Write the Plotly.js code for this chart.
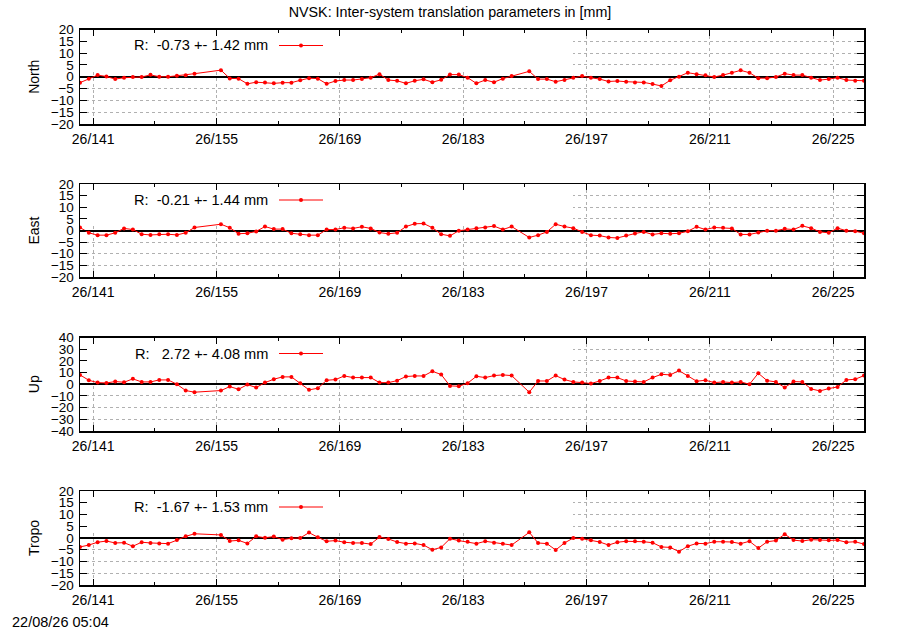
<!DOCTYPE html>
<html><head><meta charset="utf-8">
<script src="https://cdn.plot.ly/plotly-3.0.1.min.js"></script>
<style>html,body{margin:0;padding:0;background:#fff}#chart{width:900px;height:630px}</style>
</head><body><div id="chart"></div>
<script>
// ---- data (day-of-year, noon epochs) ----
const days = [139.5,140.5,141.5,142.5,143.5,144.5,145.5,146.5,147.5,148.5,149.5,150.5,151.5,152.5,
  155.5,156.5,157.5,158.5,159.5,160.5,161.5,162.5,163.5,164.5,165.5,166.5,167.5,168.5,169.5,170.5,171.5,172.5,173.5,174.5,175.5,176.5,177.5,178.5,179.5,180.5,181.5,182.5,183.5,184.5,185.5,186.5,187.5,188.5,
  190.5,191.5,192.5,193.5,194.5,195.5,196.5,197.5,198.5,199.5,200.5,201.5,202.5,203.5,204.5,205.5,206.5,207.5,208.5,209.5,210.5,211.5,212.5,213.5,214.5,215.5,216.5,217.5,218.5,219.5,220.5,221.5,222.5,223.5,224.5,225.5,226.5,227.5,228.5];

const north = [-2.5,-0.8,0.7,0.1,-1.0,-0.4,-0.1,-0.1,0.8,0.0,0.0,0.4,0.6,1.3,
  2.8,-0.7,-0.8,-3.0,-2.3,-2.4,-2.8,-2.5,-2.5,-1.5,-0.6,-0.8,-3.0,-1.8,-1.4,-1.4,-1.0,-0.4,1.1,-1.4,-1.7,-2.8,-1.7,-1.1,-2.3,-1.3,0.9,0.9,-0.4,-2.8,-1.4,-2.3,-0.8,0.3,
  2.3,-1.0,-1.0,-2.1,-1.4,-0.4,0.3,-0.4,-1.0,-2.0,-1.8,-2.1,-2.4,-2.4,-3.1,-3.9,-1.5,0.0,1.7,1.1,0.6,-0.1,0.7,1.7,2.7,1.7,-0.6,-0.6,-0.1,1.3,0.7,0.7,-0.4,-1.4,-1.0,-0.4,-1.4,-1.7,-1.7];

const east = [1.3,-1.0,-2.0,-2.0,-1.0,0.9,0.4,-1.6,-1.9,-1.6,-1.6,-1.9,-1.0,1.3,
  2.7,1.2,-1.4,-1.2,-0.4,1.7,0.6,0.6,-1.2,-1.6,-2.0,-2.0,0.4,0.4,1.2,0.9,1.6,0.9,-0.9,-1.4,-1.0,1.7,2.9,3.0,1.2,-1.6,-2.3,-0.1,0.4,1.0,1.3,1.9,0.4,1.7,
  -3.0,-2.0,-0.6,2.7,1.7,1.0,-0.6,-2.0,-2.2,-3.0,-3.2,-2.2,-1.3,-0.6,-1.7,-1.2,-1.4,-1.2,-0.3,1.6,0.4,1.3,1.2,0.9,-1.7,-1.7,-0.9,-0.1,-0.1,0.7,0.4,2.0,1.0,-0.6,-1.0,1.0,-0.1,-0.3,-1.2];

const up = [8.0,3.4,1.4,1.1,2.3,1.7,4.6,2.0,2.0,3.7,3.7,0.0,-5.4,-6.8,
  -5.4,-2.0,-4.3,-0.3,-2.8,1.4,4.3,6.3,6.3,0.9,-4.8,-3.4,3.4,4.0,7.1,5.7,5.7,5.7,1.4,1.4,3.1,6.6,7.1,7.1,11.1,8.3,-1.4,-1.7,0.9,6.8,5.7,7.4,8.0,7.4,
  -6.8,2.8,2.8,7.4,4.0,2.0,1.4,0.6,2.8,5.7,5.7,2.8,2.3,2.0,5.7,8.5,8.0,11.7,7.1,2.6,3.4,1.4,2.0,1.4,2.0,0.0,9.4,3.1,2.0,-2.8,2.3,2.0,-4.0,-5.7,-3.7,-2.3,3.7,4.3,7.4];

const tropo = [-3.8,-3.0,-1.8,-1.3,-2.1,-2.0,-3.5,-1.8,-2.1,-2.3,-2.4,-0.9,0.7,1.8,
  1.3,-1.3,-1.0,-2.3,0.7,0.1,0.6,-0.7,-0.1,0.0,2.3,0.3,-1.4,-1.1,-1.8,-2.1,-2.1,-2.6,0.4,-0.4,-1.7,-2.4,-2.3,-3.0,-5.0,-4.0,-0.3,-1.1,-1.6,-2.4,-1.4,-2.0,-2.4,-3.0,
  2.4,-2.1,-2.4,-5.1,-2.1,0.0,-0.3,-1.0,-1.7,-3.0,-1.8,-1.4,-1.4,-1.6,-2.0,-3.8,-4.0,-5.8,-3.5,-2.3,-2.4,-1.6,-1.6,-1.7,-2.4,-1.4,-4.3,-1.6,-1.1,1.6,-0.9,-1.3,-0.7,-0.9,-1.0,-0.9,-1.8,-1.6,-2.6];

const panelNames = ['North','East','Up','Tropo'];
const legendTexts = ['R:  -0.73 +- 1.42 mm','R:  -0.21 +- 1.44 mm','R:   2.72 +- 4.08 mm','R:  -1.67 +- 1.53 mm'];
const tickDays = [141,155,169,183,197,211,225];
const tickLabels = ['26/141','26/155','26/169','26/183','26/197','26/211','26/225'];
const minorDays = [148,162,176,190,204,218];
const titleText = 'NVSK: Inter-system translation parameters in [mm]';
const stampText = '22/08/26 05:04';

// ---- layout ----
const series = [north, east, up, tropo];
const xRange = [139.5, 228.5];
const yRanges = [[-20,20],[-20,20],[-40,40],[-20,20]];
const yDticks = [5,5,10,5];
const H = 630, W = 900, L = 80, RGT = 864;
const panelTop = [29.5, 184, 337.5, 491];
const panelBot = [124, 277, 431, 585];
const FONT = 'Liberation Sans, Arial, sans-serif';
const px2x = p => (p - L) / (RGT - L);
const px2y = p => 1 - p / H;

const traces = [];
const layout = {
  width: W, height: H,
  margin: {l: L, r: W - RGT, t: 0, b: 0},
  paper_bgcolor: '#fff', plot_bgcolor: '#fff',
  font: {family: FONT, size: 14, color: '#000'},
  showlegend: false,
  title: {text: titleText, x: 0.5, xref: 'container', xanchor: 'center', y: 1 - 12/H, yref: 'container', yanchor: 'middle', font: {family: FONT, size: 14.3, color: '#000'}},
  shapes: [], annotations: []
};

for (let i = 0; i < 4; i++) {
  const s = i === 0 ? '' : String(i + 1);
  traces.push({
    type: 'scatter', mode: 'lines+markers',
    x: days, y: series[i],
    xaxis: 'x' + s, yaxis: 'y' + s,
    line: {color: '#ff0000', width: 1},
    marker: {color: '#ff0000', size: 4},
    hoverinfo: 'skip'
  });
  const d0 = px2y(panelBot[i]), d1 = px2y(panelTop[i]);
  const ph = panelBot[i] - panelTop[i];
  layout['xaxis' + s] = {
    domain: [0, 1], range: xRange, anchor: 'y' + s,
    tickmode: 'array', tickvals: tickDays, ticktext: tickLabels,
    ticks: 'inside', ticklen: 6, tickwidth: 1, tickcolor: '#000',
    mirror: 'allticks', showline: true, linecolor: '#000', linewidth: 1.5,
    showgrid: true, gridcolor: '#b0b0b0', griddash: 'dot', gridwidth: 1,
    zeroline: false, tickfont: {family: FONT, size: 14, color: '#000'},
    ticklabelstandoff: 2,
    minor: {tickmode: 'array', tickvals: minorDays, ticks: 'inside', ticklen: 3, tickcolor: '#000', showgrid: false},
    fixedrange: true
  };
  layout['yaxis' + s] = {
    domain: [d0, d1], range: yRanges[i], anchor: 'x' + s,
    tickmode: 'linear', tick0: 0, dtick: yDticks[i],
    ticks: 'inside', ticklen: 7, tickwidth: 1, tickcolor: '#000',
    mirror: 'allticks', showline: true, linecolor: '#000', linewidth: 1.5,
    showgrid: true, gridcolor: '#b0b0b0', griddash: 'dot', gridwidth: 1,
    zeroline: true, zerolinecolor: '#000', zerolinewidth: 2,
    tickfont: {family: FONT, size: 13.5, color: '#000'},
    ticklabelstandoff: 2,
    title: {text: panelNames[i], font: {family: FONT, size: 14, color: '#000'}, standoff: 8},
    fixedrange: true
  };
  // opaque key box hiding the grid behind the key (converted from pixel extent)
  const yr = yRanges[i];
  const xr1 = xRange[0] + (573 - L) / (RGT - L) * (xRange[1] - xRange[0]);
  const yb = yr[1] - 41 / ph * (yr[1] - yr[0]);
  layout.shapes.push({type: 'rect', xref: 'x' + s, yref: 'y' + s, layer: 'between',
    x0: xRange[0], x1: xr1, y0: yb, y1: yr[1],
    fillcolor: '#ffffff', line: {width: 0}});
  // key sample
  const ky = px2y(panelTop[i] + 16);
  layout.shapes.push({type: 'line', xref: 'paper', yref: 'paper', layer: 'above',
    x0: px2x(279), x1: px2x(323), y0: ky, y1: ky, line: {color: '#ff0000', width: 1}});
  layout.shapes.push({type: 'circle', xref: 'paper', yref: 'paper', layer: 'above',
    xsizemode: 'pixel', ysizemode: 'pixel', xanchor: px2x(301), yanchor: ky,
    x0: -2, x1: 2, y0: -2, y1: 2, fillcolor: '#ff0000', line: {width: 0}});
  layout.annotations.push({xref: 'paper', yref: 'paper', x: px2x(270), y: ky,
    xanchor: 'right', yanchor: 'middle', showarrow: false,
    text: legendTexts[i].replace(/ /g, '\u00a0'), font: {family: FONT, size: 14.6, color: '#000'}});
}
layout.annotations.push({xref: 'paper', yref: 'paper', x: px2x(10), y: px2y(622),
  xanchor: 'left', yanchor: 'middle', showarrow: false, text: stampText,
  font: {family: FONT, size: 14.5, color: '#000'}});

Plotly.newPlot('chart', traces, layout, {staticPlot: true, displayModeBar: false});
</script>
</body></html>
